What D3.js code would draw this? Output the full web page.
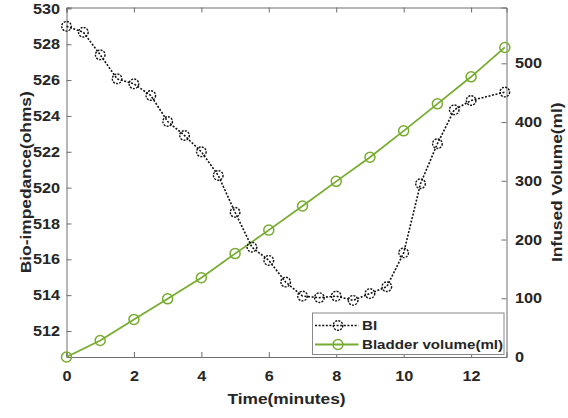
<!DOCTYPE html>
<html>
<head>
<meta charset="utf-8">
<title>Bio-impedance vs infused volume</title>
<style>
  body { margin: 0; background: #fff; }
  text { font-family: "Liberation Sans", Arial, sans-serif; font-weight: bold; fill: #262626;
         transform-box: fill-box; transform-origin: 50% 50%; transform: scaleX(1.12); }
</style>
</head>
<body>
<script src="https://d3js.org/d3.v7.min.js"></script>
<script>
// data
var biTime = [0, 0.5, 1, 1.5, 2, 2.5, 3, 3.5, 4, 4.5, 5, 5.5, 6, 6.5, 7, 7.5, 8, 8.5, 9, 9.5, 10, 10.5, 11, 11.5, 12, 13];
var biValues = [529.0, 528.67, 527.41, 526.07, 525.79, 525.14, 523.69, 522.91, 522.0, 520.68, 518.62, 516.68, 515.94,
                514.73, 513.95, 513.86, 513.95, 513.71, 514.09, 514.47, 516.36, 520.22, 522.45, 524.34, 524.86, 525.33];
var volTime = [0, 1, 2, 3, 4, 5, 6, 7, 8, 9, 10, 11, 12, 13];
var volValues = [0, 28, 64, 99, 135, 176, 216, 257, 299, 340, 385, 431, 477, 527];
var xTicks = [0, 2, 4, 6, 8, 10, 12];
var leftTicks = [512, 514, 516, 518, 520, 522, 524, 526, 528, 530];
var rightTicks = [0, 100, 200, 300, 400, 500];
var legendLabels = ["BI", "Bladder volume(ml)"];

var width = 568, height = 418;
var margin = {top: 7.5, right: 61.5, bottom: 61, left: 66.5};
var green = "#77ac30";
var axisColor = "#6e6e6e";

var svg = d3.select("body")
    .append("svg")
    .attr("width", width)
    .attr("height", height);

var x = d3.scaleLinear()
    .domain([0, 13.05])
    .range([margin.left, width - margin.right]);

var yLeft = d3.scaleLinear()
    .domain([510.55, 530.05])
    .range([height - margin.bottom, margin.top]);

var yRight = d3.scaleLinear()
    .domain([0, 595])
    .range([height - margin.bottom, margin.top]);

var tickLen = 5;

function styleAxis(g, origin) {
    g.select(".domain").attr("stroke", axisColor);
    g.selectAll(".tick line").attr("stroke", axisColor);
    g.selectAll("text")
        .style("font-size", "14.5px")
        .style("transform-origin", origin);
}

// bottom and top axes (ticks point inward)
svg.append("g")
    .attr("transform", "translate(0," + (height - margin.bottom) + ")")
    .call(d3.axisBottom(x).tickValues(xTicks).tickSize(-tickLen).tickPadding(14).tickFormat(d3.format("d")))
    .call(styleAxis, "50% 50%");

svg.append("g")
    .attr("transform", "translate(0," + margin.top + ")")
    .call(d3.axisTop(x).tickValues(xTicks).tickSize(-tickLen).tickFormat(""))
    .call(styleAxis, "50% 50%");

svg.append("g")
    .attr("transform", "translate(" + margin.left + ",0)")
    .call(d3.axisLeft(yLeft).tickValues(leftTicks).tickSize(-tickLen).tickPadding(6.5).tickFormat(d3.format("d")))
    .call(styleAxis, "100% 50%");

svg.append("g")
    .attr("transform", "translate(" + (width - margin.right) + ",0)")
    .call(d3.axisRight(yRight).tickValues(rightTicks).tickSize(-tickLen).tickPadding(8.5).tickFormat(d3.format("d")))
    .call(styleAxis, "0% 50%");

// axis titles
svg.append("text")
    .attr("x", (margin.left + width - margin.right) / 2)
    .attr("y", 404)
    .attr("text-anchor", "middle")
    .style("font-size", "15.5px")
    .text("Time(minutes)");

svg.append("g")
    .attr("transform", "translate(31," + ((margin.top + height - margin.bottom) / 2) + ") rotate(-90)")
    .append("text")
    .attr("text-anchor", "middle")
    .style("font-size", "15.5px")
    .text("Bio-impedance(ohms)");

svg.append("g")
    .attr("transform", "translate(562," + ((margin.top + height - margin.bottom) / 2) + ") rotate(-90)")
    .append("text")
    .attr("text-anchor", "middle")
    .style("font-size", "15.5px")
    .text("Infused Volume(ml)");

// green volume series
var volData = volTime.map(function(t, i){ return [t, volValues[i]]; });
var volLine = d3.line()
    .x(function(d){ return x(d[0]); })
    .y(function(d){ return yRight(d[1]); });

svg.append("path")
    .datum(volData)
    .attr("d", volLine)
    .attr("fill", "none")
    .attr("stroke", green)
    .attr("stroke-width", 1.8);

svg.selectAll(".vol-marker")
    .data(volData)
    .enter()
    .append("circle")
    .attr("class", "vol-marker")
    .attr("cx", function(d){ return x(d[0]); })
    .attr("cy", function(d){ return yRight(d[1]); })
    .attr("r", 5)
    .attr("fill", "none")
    .attr("stroke", green)
    .attr("stroke-width", 1.5);

// black BI series
var biData = biTime.map(function(t, i){ return [t, biValues[i]]; });
var biLine = d3.line()
    .x(function(d){ return x(d[0]); })
    .y(function(d){ return yLeft(d[1]); });

svg.append("path")
    .datum(biData)
    .attr("d", biLine)
    .attr("fill", "none")
    .attr("stroke", "#111")
    .attr("stroke-width", 1.6)
    .attr("stroke-dasharray", "2,1.6");

svg.selectAll(".bi-marker")
    .data(biData)
    .enter()
    .append("circle")
    .attr("class", "bi-marker")
    .attr("cx", function(d){ return x(d[0]); })
    .attr("cy", function(d){ return yLeft(d[1]); })
    .attr("r", 4.8)
    .attr("fill", "none")
    .attr("stroke", "#111")
    .attr("stroke-width", 1.4)
    .attr("stroke-dasharray", "2,1.2");

// legend
var lg = svg.append("g").attr("transform", "translate(312.5,313)");
lg.append("rect")
    .attr("width", 191.5)
    .attr("height", 41.5)
    .attr("fill", "#fff")
    .attr("stroke", "#888")
    .attr("stroke-width", 1);

var legendStyles = [
    {color: "#111", dash: "2,1.6", mdash: "2,1.2"},
    {color: green, dash: null, mdash: null}
];

legendLabels.forEach(function(label, i){
    var cy = 12.5 + i * 19;
    var s = legendStyles[i];
    lg.append("line")
        .attr("x1", 2.5).attr("x2", 46)
        .attr("y1", cy).attr("y2", cy)
        .attr("stroke", s.color)
        .attr("stroke-width", i === 0 ? 1.6 : 1.8)
        .attr("stroke-dasharray", s.dash);
    lg.append("circle")
        .attr("cx", 25.5).attr("cy", cy)
        .attr("r", i === 0 ? 4.8 : 5)
        .attr("fill", "none")
        .attr("stroke", s.color)
        .attr("stroke-width", 1.4)
        .attr("stroke-dasharray", s.mdash);
    lg.append("text")
        .attr("x", 49.5)
        .attr("y", cy + 5)
        .style("font-size", "13.5px")
        .style("transform-origin", "0% 50%")
        .text(label);
});
</script>
</body>
</html>
